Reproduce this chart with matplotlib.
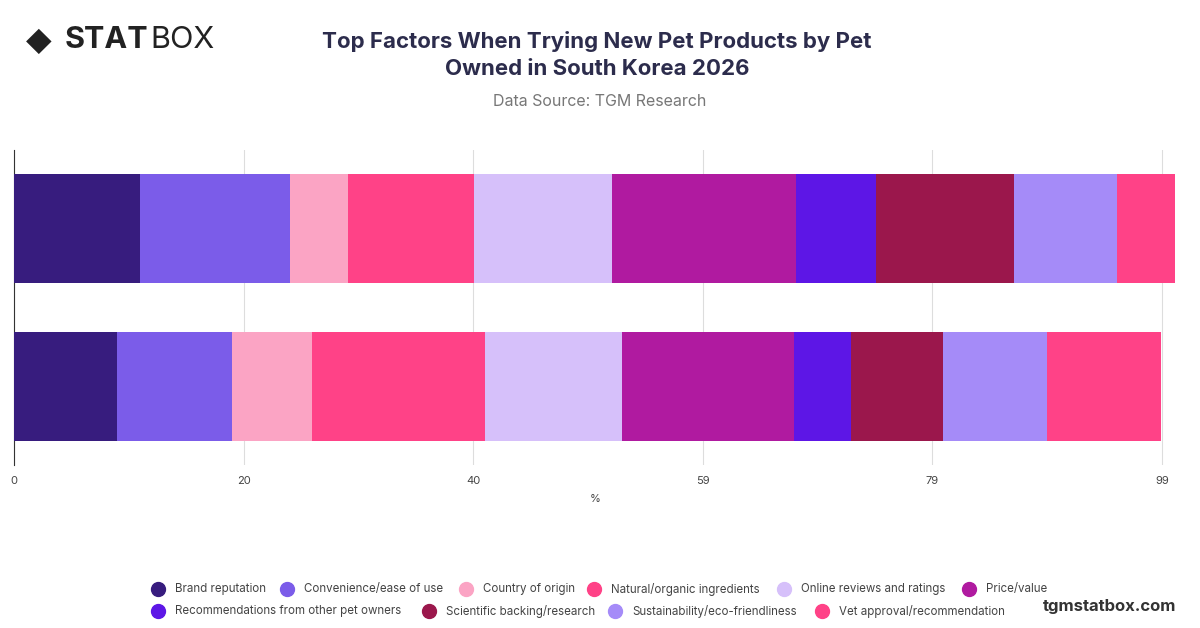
import matplotlib
matplotlib.use("Agg")
import matplotlib.pyplot as plt

pets = ["Cat", "Dog"]
factors = ["Brand reputation", "Convenience/ease of use", "Country of origin",
           "Natural/organic ingredients", "Online reviews and ratings", "Price/value",
           "Recommendations from other pet owners", "Scientific backing/research",
           "Sustainability/eco-friendliness", "Vet approval/recommendation"]
values_top = [10.9, 12.9, 5.0, 10.9, 11.9, 15.8, 6.9, 11.9, 8.9, 5.0]
values_bottom = [8.9, 9.9, 6.9, 14.9, 11.8, 14.9, 4.9, 7.9, 9.0, 9.8]
tick_vals = [0, 19.8, 39.6, 59.4, 79.2, 99]
tick_labels = ["0", "20", "40", "59", "79", "99"]
colors = ["#371c7e", "#7b5ce9", "#fba4c4", "#ff4287", "#d6c0fa", "#b01aa0",
          "#5d16e6", "#9b174c", "#a58bf8", "#ff4287"]

plt.rcParams['font.family'] = ['Inter', 'DejaVu Sans']
W, H = 1200, 628
fig = plt.figure(figsize=(12, 6.28), dpi=100)
ax = fig.add_axes([14/W, 1-465/H, (1176-14)/W, (465-150)/H])
rows = [values_top, values_bottom]
for i, vals in enumerate(rows):
    left = 0
    for v, c in zip(vals, colors):
        ax.barh(i, v, left=left, color=c, height=0.69, zorder=3)
        left += v
ax.set_ylim(1.5, -0.5)
ax.set_xlim(0, 100.2)
ax.set_xticks(tick_vals)
ax.set_xticklabels(tick_labels, fontsize=8, color="#444444")
ax.set_yticks([])
ax.grid(axis="x", color="#dddddd", lw=0.8, zorder=0)
for s in ["top", "right", "bottom"]:
    ax.spines[s].set_visible(False)
ax.spines["left"].set_color("#333333")
ax.tick_params(axis="x", length=0, pad=8)
ax.set_xlabel("%", fontsize=8, color="#444444", labelpad=6)

fig.text(597/W, 1-55/H, "Top Factors When Trying New Pet Products by Pet\nOwned in South Korea 2026",
         ha="center", va="center", fontsize=16, fontweight="bold", color="#2c2c4c", linespacing=1.45)
fig.text(600/W, 1-101/H, "Data Source: TGM Research", ha="center", va="center",
         fontsize=11.5, color="#777777")
fig.text(26/W, 1-40/H, "◆", fontsize=24, color="#222222", va="center", ha="left",
         family="DejaVu Sans")
fig.text(65/W, 1-40/H, "STAT", fontsize=22, fontweight="bold", color="#222222", va="center")
fig.text(150/W, 1-40/H, "BOX", fontsize=22, color="#222222", va="center")
fig.text(1176/W, 1-606/H, "tgmstatbox.com", fontsize=12, fontweight="bold",
         color="#333333", ha="right", va="center")

pos = [(158, 589), (287, 589), (466, 589), (594, 589), (784, 589), (969, 589),
       (158, 611), (429, 611), (615, 611), (822, 611)]
for (x, y), lab, c in zip(pos, factors, colors):
    fig.lines.append(plt.Line2D([x/W], [1-y/H], marker="o", markersize=10, color=c,
                                transform=fig.transFigure, figure=fig))
    fig.text((x+17)/W, 1-y/H, lab, fontsize=8.3, color="#444444", va="center", ha="left")
plt.savefig("out.png", dpi=100)
